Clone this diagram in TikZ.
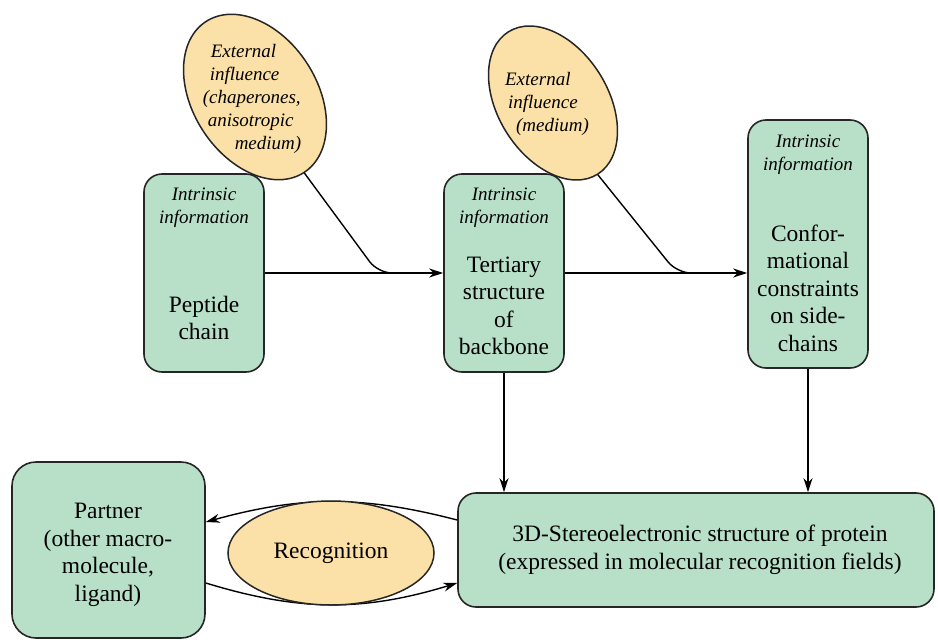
\documentclass[tikz,border=0pt]{standalone}
\usepackage{fontspec}
\setmainfont{Liberation Serif}
\usetikzlibrary{shapes.geometric,arrows.meta}

\definecolor{boxgreen}{RGB}{184,224,201}
\definecolor{extyellow}{RGB}{251,224,168}

\tikzset{
	box/.style={draw=black!85, line width=1.6pt, fill=boxgreen, rounded corners=18pt, inner sep=0pt},
	ext/.style={draw=black!85, line width=1.5pt, fill=extyellow, ellipse, inner sep=0pt},
	intr/.style={font=\fontsize{19}{23}\selectfont\itshape, align=center, inner sep=0pt},
	txt/.style={font=\fontsize{23.5}{27.5}\selectfont, align=center, inner sep=0pt},
	link/.style={line width=1.4pt, -{Stealth[length=14pt,width=9pt]}},
	feed/.style={line width=1.4pt, rounded corners=14pt}
}

\begin{document}
\begin{tikzpicture}[x=1pt,y=-1pt]
	\useasboundingbox (0,0) rectangle (938,640);

	% green boxes
	\node[box, minimum width=120, minimum height=198] (pep) at (204,273) {};
	\node[box, minimum width=120, minimum height=198] (tert) at (504,273) {};
	\node[box, minimum width=120, minimum height=248] (conf) at (808,244) {};
	\node[box, minimum width=476, minimum height=114] (prot) at (696,550) {};
	\node[box, rounded corners=24pt, minimum width=193, minimum height=176] (partner) at (108.5,550) {};

	\node[intr] (pepinfo) at (204,208) {Intrinsic\\information};
	\node[intr] (tertinfo) at (504,208) {Intrinsic\\information};
	\node[intr] (confinfo) at (808,155) {Intrinsic\\information};

	\node[txt] (peptxt) at (204,318) {Peptide\\chain};
	\node[txt] (terttxt) at (504,306) {Tertiary\\structure\\of\\backbone};
	\node[txt] (conftxt) at (808,288) {Confor-\\mational\\constraints\\on side-\\chains};
	\node[txt] (prottxt) at (700,550) {3D-Stereoelectronic structure of protein\\(expressed in molecular recognition fields)};
	\node[txt] (parttxt) at (108,555) {Partner\\(other macro-\\molecule,\\ligand)};

	% connectors
	\coordinate (j1) at (378,273);
	\coordinate (j2) at (677,273);
	\draw[link] (pep.east) -- (tert.west);
	\draw[link] (tert.east) -- (tert.east -| conf.west);
	\draw[link] (tert.south) -- (tert.south |- prot.north);
	\draw[link] (conf.south) -- (conf.south |- prot.north);
	\draw[link] ([yshift=30pt]prot.west) to[bend right=15] ([yshift=28pt]partner.east);
	\draw[link] ([yshift=-33pt]partner.east) to[bend right=17] ([yshift=-33pt]prot.west);

	% yellow ellipses
	\node[ext, minimum width=180, minimum height=124, rotate=-57] (ext1) at (255,97) {};
	\node[ext, minimum width=168, minimum height=110, rotate=-58] (ext2) at (553,103) {};
	\node[ext, minimum width=206, minimum height=104] (recog) at (331,553) {};

	\node[intr, align=left] (ext1txt) at (252,99) {\hspace*{8pt}External\\\hspace*{7pt}influence\\(chaperones,\\\hspace*{5pt}anisotropic\\\hspace*{32pt}medium)};
	\node[intr, align=left] (ext2txt) at (547,104) {External\\\hspace*{3pt}influence\\\hspace*{11pt}(medium)};
	\node[txt] (recogtxt) at (331,553) {Recognition};

	\draw[feed] (ext1.east) -- (j1) -- ++(25,0);
	\draw[feed] (ext2.east) -- (j2) -- ++(25,0);
\end{tikzpicture}
\end{document}
